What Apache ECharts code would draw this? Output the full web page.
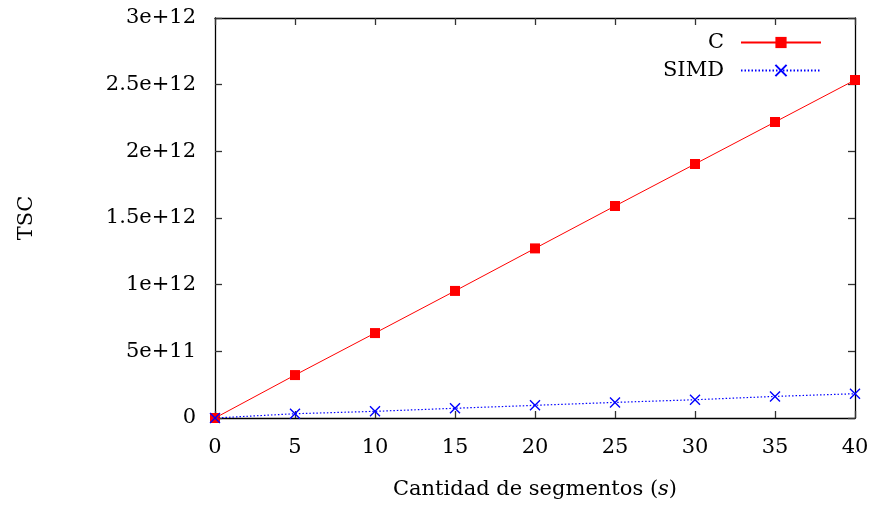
<!DOCTYPE html>
<html>
<head>
<meta charset="utf-8">
<script src="https://cdn.jsdelivr.net/npm/echarts@6/dist/echarts.min.js"></script>
<style>
  html, body { margin: 0; padding: 0; background: #fff; }
  #chart { width: 872px; height: 506px; }
</style>
</head>
<body>
<div id="chart"></div>
<script>
var segmentos = [0, 5, 10, 15, 20, 25, 30, 35, 40];
var tscC = [0, 3.22e11, 6.37e11, 9.53e11, 1.272e12, 1.59e12, 1.905e12, 2.22e12, 2.535e12];
var tscSIMD = [0, 3.2e10, 5.0e10, 7.3e10, 9.5e10, 1.17e11, 1.37e11, 1.62e11, 1.82e11];
var yTickLabels = ['0', '5e+11', '1e+12', '1.5e+12', '2e+12', '2.5e+12', '3e+12'];

(function () {
  var chart = echarts.init(document.getElementById('chart'));
  var font = 'DejaVu Serif';
  var fs = 21;

  function pairs(ys) {
    return segmentos.map(function (x, i) { return [x, ys[i]]; });
  }
  // frame lines + inward ticks, like gnuplot's border
  function line() {
    return { show: true, onZero: false, lineStyle: { color: '#000', width: 1.3 } };
  }
  function tick() {
    return { show: true, inside: true, length: 7, lineStyle: { color: '#333', width: 1.3 } };
  }

  var option = {
    animation: false,
    backgroundColor: '#fff',
    grid: { left: 215, right: 17, top: 18, bottom: 88 },
    legend: {
      orient: 'vertical',
      align: 'right',
      right: 45,
      top: 27,
      itemWidth: 80,
      itemHeight: 14,
      itemGap: 7,
      textStyle: { fontFamily: font, fontSize: fs, color: '#000', padding: [0, 12, 0, 0] },
      data: ['C', 'SIMD']
    },
    xAxis: [
      {
        type: 'value', min: 0, max: 40, interval: 5,
        axisLine: line(), axisTick: tick(), splitLine: { show: false },
        axisLabel: { fontFamily: font, fontSize: fs, color: '#000', margin: 19 },
        name: '{n|Cantidad de segmentos (}{i|s}{n|)}',
        nameLocation: 'middle', nameGap: 61,
        nameTextStyle: {
          rich: {
            n: { fontFamily: font, fontSize: fs, color: '#000' },
            i: { fontFamily: font, fontSize: fs, fontStyle: 'italic', color: '#000' }
          }
        }
      },
      {
        type: 'value', position: 'top', min: 0, max: 40, interval: 5,
        axisLine: line(), axisTick: tick(), axisLabel: { show: false }, splitLine: { show: false }
      }
    ],
    yAxis: [
      {
        type: 'value', min: 0, max: 3e12, interval: 5e11,
        axisLine: line(), axisTick: tick(), splitLine: { show: false },
        axisLabel: {
          fontFamily: font, fontSize: fs, color: '#000', margin: 19,
          formatter: function (v) { return yTickLabels[Math.round(v / 5e11)]; }
        },
        name: 'TSC', nameLocation: 'middle', nameGap: 178,
        nameTextStyle: { fontFamily: font, fontSize: fs, color: '#000' }
      },
      {
        type: 'value', position: 'right', min: 0, max: 3e12, interval: 5e11,
        axisLine: line(), axisTick: tick(), axisLabel: { show: false }, splitLine: { show: false }
      }
    ],
    series: [
      {
        name: 'C', type: 'line', data: pairs(tscC),
        symbol: 'rect', symbolSize: 10,
        lineStyle: { color: '#ff0000', width: 1 },
        itemStyle: { color: '#ff0000' },
        z: 3
      },
      {
        name: 'SIMD', type: 'line', data: pairs(tscSIMD),
        symbol: 'path://M0,0L10,10M10,0L0,10', symbolSize: 10,
        lineStyle: { color: '#0000ff', width: 1.2, type: [1.5, 2] },
        itemStyle: { color: 'rgba(0,0,0,0)', borderColor: '#0000ff', borderWidth: 1.4 },
        z: 4
      }
    ]
  };

  chart.setOption(option);
  window.addEventListener('resize', function () { chart.resize(); });
})();
</script>
</body>
</html>
